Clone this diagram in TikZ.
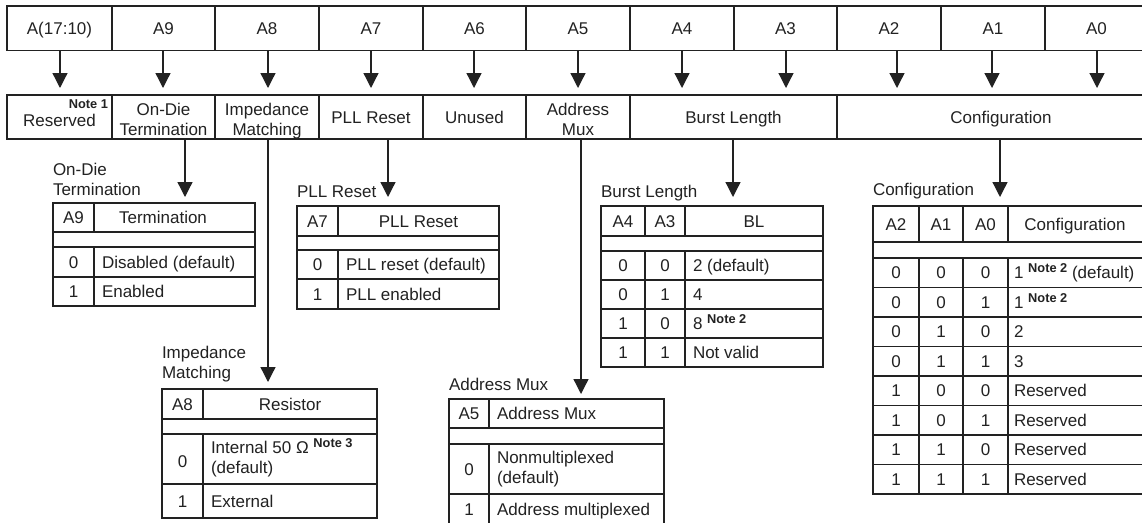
\documentclass[tikz,border=0pt]{standalone}
\usepackage{fontspec}
\setmainfont{Liberation Sans}
\usetikzlibrary{arrows.meta}
\definecolor{lc}{HTML}{222222}
\newcommand\mainsz{\fontsize{17}{20.5}\selectfont}
\newcommand\notesz{\fontsize{12.8}{14}\selectfont\bfseries}
\newcommand\mynote[1]{\raisebox{6pt}{\notesz #1}}
\newcommand\twoc[2]{\begin{tabular}[t]{@{}c@{}}#1\\#2\end{tabular}}
\newcommand\twol[2]{\begin{tabular}[t]{@{}l@{}}#1\\#2\end{tabular}}
\tikzset{
  cell/.style={draw=lc, line width=1.6pt, inner sep=0pt, outer sep=0pt, anchor=north west,
    text height=12pt, text depth=0pt, font=\mainsz, text=lc},
  cell2/.style={cell, text height=0pt, text depth=4pt},
  tbl/.style={draw=lc, line width=1.8pt, inner sep=0pt, outer sep=0pt, anchor=north west},
  grid/.style={draw=lc, line width=1.8pt},
  tt/.style={inner sep=0pt, outer sep=0pt, text height=12pt, text depth=0pt, font=\mainsz, text=lc},
  lbl/.style={inner sep=0pt, outer sep=0pt, font=\mainsz, text=lc},
  arr/.style={draw=lc, line width=1.3pt, -{Triangle[width=15pt,length=15pt]}},
}
\begin{document}
\begin{tikzpicture}[x=1pt,y=-1pt]
\fill[white] (0,0) rectangle (1142,522);
\useasboundingbox (0,0) rectangle (1142,522);

% ---------- top row ----------
\node[cell, minimum width=105pt, minimum height=44.6pt] (tA17) at (7,6) {A(17:10)};
\node[cell, minimum width=103pt, minimum height=44.6pt] (tA9) at (112,6) {A9};
\node[cell, minimum width=104pt, minimum height=44.6pt] (tA8) at (215,6) {A8};
\node[cell, minimum width=104pt, minimum height=44.6pt] (tA7) at (319,6) {A7};
\node[cell, minimum width=103pt, minimum height=44.6pt] (tA6) at (423,6) {A6};
\node[cell, minimum width=104pt, minimum height=44.6pt] (tA5) at (526,6) {A5};
\node[cell, minimum width=104pt, minimum height=44.6pt] (tA4) at (630,6) {A4};
\node[cell, minimum width=103pt, minimum height=44.6pt] (tA3) at (734,6) {A3};
\node[cell, minimum width=104pt, minimum height=44.6pt] (tA2) at (837,6) {A2};
\node[cell, minimum width=104pt, minimum height=44.6pt] (tA1) at (941,6) {A1};
\node[cell, minimum width=103pt, minimum height=44.6pt] (tA0) at (1045,6) {A0};

% ---------- second row ----------
\node[cell, minimum width=105pt, minimum height=44pt] (sRes) at (7,95) {};
\node[lbl, anchor=base east] (sResN) at (108,108) {\notesz Note 1};
\node[lbl, anchor=base] (sResT) at (59.5,126) {Reserved};
\node[cell2, minimum width=103pt, minimum height=44pt] (sODT) at (112,95) {\twoc{On-Die}{Termination}};
\node[cell2, minimum width=104pt, minimum height=44pt] (sImp) at (215,95) {\twoc{Impedance}{Matching}};
\node[cell, minimum width=104pt, minimum height=44pt] (sPLL) at (319,95) {PLL Reset};
\node[cell, minimum width=103pt, minimum height=44pt] (sUnu) at (423,95) {Unused};
\node[cell2, minimum width=104pt, minimum height=44pt] (sAddr) at (526,95) {\twoc{Address}{Mux}};
\node[cell, minimum width=207pt, minimum height=44pt] (sBL) at (630,95) {Burst Length};
\node[cell, minimum width=328pt, minimum height=44pt] (sConf) at (837,95) {Configuration};

% x positions of connectors
\coordinate (x60) at (60,0);   \coordinate (x163) at (163,0); \coordinate (x268) at (268,0);
\coordinate (x371) at (371,0); \coordinate (x474) at (474,0); \coordinate (x578) at (578,0);
\coordinate (x682) at (682,0); \coordinate (x786) at (786,0); \coordinate (x897) at (897,0);
\coordinate (x992) at (992,0); \coordinate (x1097) at (1097,0);
\coordinate (x185) at (185,0); \coordinate (x388) at (388,0); \coordinate (x581) at (581,0);
\coordinate (x733) at (733,0); \coordinate (x1000) at (1000,0);

% ---------- top arrows ----------
\draw[arr, shorten >=7pt] (tA17.south -| x60) -- (sRes.north -| x60);
\draw[arr, shorten >=7pt] (tA9.south -| x163) -- (sODT.north -| x163);
\draw[arr, shorten >=7pt] (tA8.south -| x268) -- (sImp.north -| x268);
\draw[arr, shorten >=7pt] (tA7.south -| x371) -- (sPLL.north -| x371);
\draw[arr, shorten >=7pt] (tA6.south -| x474) -- (sUnu.north -| x474);
\draw[arr, shorten >=7pt] (tA5.south -| x578) -- (sAddr.north -| x578);
\draw[arr, shorten >=7pt] (tA4.south -| x682) -- (sBL.north -| x682);
\draw[arr, shorten >=7pt] (tA3.south -| x786) -- (sBL.north -| x786);
\draw[arr, shorten >=7pt] (tA2.south -| x897) -- (sConf.north -| x897);
\draw[arr, shorten >=7pt] (tA1.south -| x992) -- (sConf.north -| x992);
\draw[arr, shorten >=7pt] (tA0.south -| x1097) -- (sConf.north -| x1097);

% ---------- On-Die Termination table ----------
\node[lbl, anchor=base west] (odtL) at (53,175) {\twol{On-Die}{Termination}};
\node[tbl, minimum width=202pt, minimum height=103pt] (odtT) at (53,203) {};
\draw[grid] (53,232) -- (255,232) (53,247) -- (255,247) (53,277) -- (255,277)
  (94,203) -- (94,232) (94,247) -- (94,306);
\node[tt] (odtH1) at (73.5,217.5) {A9};
\node[tt] (odtH2) at (163,217.5) {Termination};
\node[tt] (odtA0) at (73.5,262) {0};
\node[tt, anchor=west] (odtB0) at (102,262) {Disabled (default)};
\node[tt] (odtA1) at (73.5,291.5) {1};
\node[tt, anchor=west] (odtB1) at (102,291.5) {Enabled};

% ---------- PLL Reset table ----------
\node[lbl, anchor=base west] (pllL) at (297,197) {PLL Reset};
\node[tbl, minimum width=202pt, minimum height=103pt] (pllT) at (297,206) {};
\draw[grid] (297,236) -- (499,236) (297,250) -- (499,250) (297,279) -- (499,279)
  (338,206) -- (338,236) (338,250) -- (338,309);
\node[tt] (pllH1) at (317.5,221) {A7};
\node[tt] (pllH2) at (418.5,221) {PLL Reset};
\node[tt] (pllA0) at (317.5,264.5) {0};
\node[tt, anchor=west] (pllB0) at (346,264.5) {PLL reset (default)};
\node[tt] (pllA1) at (317.5,294) {1};
\node[tt, anchor=west] (pllB1) at (346,294) {PLL enabled};

% ---------- Burst Length table ----------
\node[lbl, anchor=base west] (blL) at (601,197) {Burst Length};
\node[tbl, minimum width=222pt, minimum height=161pt] (blT) at (601,206) {};
\draw[grid] (601,236) -- (823,236) (601,251) -- (823,251) (601,280) -- (823,280)
  (601,309) -- (823,309) (601,338) -- (823,338)
  (645,206) -- (645,236) (645,251) -- (645,367)
  (685,206) -- (685,236) (685,251) -- (685,367);
\node[tt] (blH1) at (623,221) {A4};
\node[tt] (blH2) at (665,221) {A3};
\node[tt] (blH3) at (754,221) {BL};
\node[tt] (blA0) at (623,265.5) {0}; \node[tt] (blB0) at (665,265.5) {0};
\node[tt, anchor=west] (blC0) at (693,265.5) {2 (default)};
\node[tt] (blA1) at (623,294.5) {0}; \node[tt] (blB1) at (665,294.5) {1};
\node[tt, anchor=west] (blC1) at (693,294.5) {4};
\node[tt] (blA2) at (623,323.5) {1}; \node[tt] (blB2) at (665,323.5) {0};
\node[tt, anchor=west] (blC2) at (693,323.5) {8 \mynote{Note 2}};
\node[tt] (blA3) at (623,352.5) {1}; \node[tt] (blB3) at (665,352.5) {1};
\node[tt, anchor=west] (blC3) at (693,352.5) {Not valid};

% ---------- Configuration table ----------
\node[lbl, anchor=base west] (cfL) at (873,195) {Configuration};
\node[tbl, minimum width=275pt, minimum height=288pt] (cfT) at (873,206) {};
\draw[grid] (873,242) -- (1148,242) (873,258) -- (1148,258)
  (873,287.5) -- (1148,287.5) (873,317) -- (1148,317) (873,346.5) -- (1148,346.5)
  (873,376) -- (1148,376) (873,405.5) -- (1148,405.5) (873,435) -- (1148,435)
  (873,464.5) -- (1148,464.5)
  (919,206) -- (919,242) (919,258) -- (919,494)
  (963,206) -- (963,242) (963,258) -- (963,494)
  (1008,206) -- (1008,242) (1008,258) -- (1008,494);
\node[tt] (cfH1) at (896,224) {A2};
\node[tt] (cfH2) at (941,224) {A1};
\node[tt] (cfH3) at (985.5,224) {A0};
\node[tt] (cfH4) at (1075,224) {Configuration};
\foreach \i/\a/\b/\c/\t in {0/0/0/0/{1 \mynote{Note 2} (default)},
  1/0/0/1/{1 \mynote{Note 2}}, 2/0/1/0/2, 3/0/1/1/3,
  4/1/0/0/Reserved, 5/1/0/1/Reserved, 6/1/1/0/Reserved, 7/1/1/1/Reserved}{
  \pgfmathsetmacro\yc{272.75+29.5*\i}
  \node[tt] (cfA\i) at (896,\yc) {\a};
  \node[tt] (cfB\i) at (941,\yc) {\b};
  \node[tt] (cfC\i) at (985.5,\yc) {\c};
  \node[tt, anchor=west] (cfD\i) at (1014,\yc) {\t};
}

% ---------- Impedance Matching table ----------
\node[lbl, anchor=base west] (imL) at (162,358) {\twol{Impedance}{Matching}};
\node[tbl, minimum width=215pt, minimum height=129pt] (imT) at (162,389) {};
\draw[grid] (162,419) -- (377,419) (162,434) -- (377,434) (162,484) -- (377,484)
  (203,389) -- (203,419) (203,434) -- (203,518);
\node[tt] (imH1) at (182.5,404) {A8};
\node[tt] (imH2) at (290,404) {Resistor};
\node[tt] (imA0) at (182.5,461) {0};
\node[lbl, anchor=base west] (imB0) at (211,453) {\twol{Internal 50 Ω \mynote{Note 3}}{(default)}};
\node[tt] (imA1) at (182.5,501) {1};
\node[tt, anchor=west] (imB1) at (211,501) {External};

% ---------- Address Mux table ----------
\node[lbl, anchor=base west] (amL) at (449,390) {Address Mux};
\node[tbl, minimum width=215pt, minimum height=127pt] (amT) at (449,399) {};
\draw[grid] (449,428) -- (664,428) (449,444) -- (664,444) (449,494) -- (664,494)
  (489,399) -- (489,428) (489,444) -- (489,526);
\node[tt] (amH1) at (469,413.5) {A5};
\node[tt, anchor=west] (amH2) at (497,413.5) {Address Mux};
\node[tt] (amA0) at (469,469) {0};
\node[lbl, anchor=base west] (amB0) at (497,463) {\twol{Nonmultiplexed}{(default)}};
\node[tt] (amA1) at (469,509) {1};
\node[tt, anchor=west] (amB1) at (497,509) {Address multiplexed};

% ---------- arrows from fields to tables ----------
\draw[arr, shorten >=6pt] (sODT.south -| x185) -- (odtT.north -| x185);
\draw[arr, shorten >=7pt] (sImp.south -| x268) -- (imT.north -| x268);
\draw[arr, shorten >=9pt] (sPLL.south -| x388) -- (pllT.north -| x388);
\draw[arr, shorten >=5pt] (sAddr.south -| x581) -- (amT.north -| x581);
\draw[arr, shorten >=9pt] (sBL.south -| x733) -- (blT.north -| x733);
\draw[arr, shorten >=9pt] (sConf.south -| x1000) -- (cfT.north -| x1000);
\end{tikzpicture}
\end{document}
